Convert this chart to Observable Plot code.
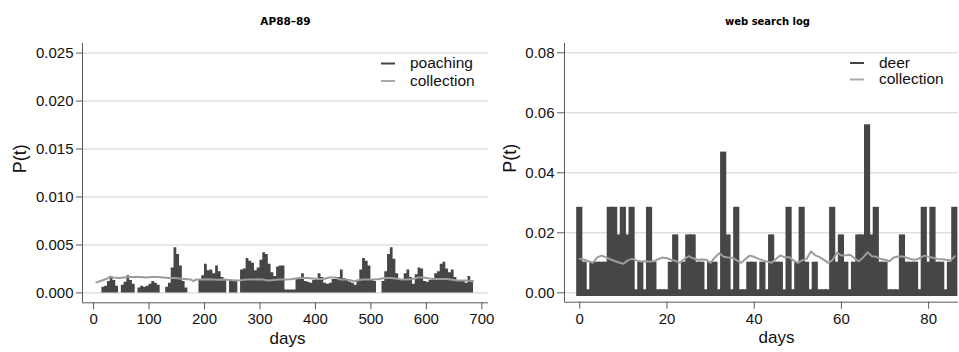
<!DOCTYPE html>
<html><head><meta charset="utf-8">
<script src="https://cdn.jsdelivr.net/npm/d3@7"></script>
<script src="https://cdn.jsdelivr.net/npm/@observablehq/plot@0.6"></script>
<style>
body{margin:0;background:#fff;}
#wrap{display:flex;width:959px;height:352px;overflow:hidden;background:#fff;}
#wrap svg{display:block;}
</style></head><body><div id="wrap"></div>
<script>
// ---------- LEFT PANEL: AP88–89 ----------
const leftTitle = "AP88–89";
const leftSeries = ["poaching", "collection"];
const leftXTicks = [0, 100, 200, 300, 400, 500, 600, 700];
const leftYTicks = [0, 0.005, 0.010, 0.015, 0.020, 0.025];
// 5-day bins: start day of each bin
const leftBinDays = [15,20,25,30,35,40,45,50,55,60,65,70,75,80,85,90,95,100,105,110,115,120,125,130,135,140,145,150,155,160,165,170,175,180,185,190,195,200,205,210,215,220,225,230,235,240,245,250,255,260,265,270,275,280,285,290,295,300,305,310,315,320,325,330,335,340,345,350,355,360,365,370,375,380,385,390,395,400,405,410,415,420,425,430,435,440,445,450,455,460,465,470,475,480,485,490,495,500,505,510,515,520,525,530,535,540,545,550,555,560,565,570,575,580,585,590,595,600,605,610,615,620,625,630,635,640,645,650,655,660,665,670,675,680,685];
const leftPoaching = [0.0006,0.0007,0.0012,0.0017,0.0013,0.0007,0,0.0008,0.0011,0.0018,0.0013,0.0009,0,0.0005,0.0007,0.0006,0.0007,0.0009,0.0012,0.0010,0.0008,0,0,0.0006,0.0010,0.0026,0.0047,0.0040,0.0028,0.0012,0.0005,0,0,0,0,0.0014,0.0018,0.0030,0.0023,0.0024,0.0020,0.0028,0.0022,0.0016,0.0013,0,0.0012,0.0012,0.0012,0,0.0024,0.0025,0.0036,0.0033,0.0031,0.0023,0.0026,0.0034,0.0042,0.0040,0.0030,0.0021,0.0017,0.0027,0.0028,0.0028,0.0003,0.0003,0.0003,0.0003,0.0015,0.0016,0.0020,0.0012,0.0011,0.0010,0.0013,0.0015,0.0020,0.0016,0.0010,0.0009,0.0010,0.0014,0.0014,0.0016,0.0024,0.0015,0.0014,0.0011,0.0010,0.0008,0.0013,0.0024,0.0036,0.0033,0.0028,0.0014,0.0012,0,0,0.0012,0.0022,0.0040,0.0047,0.0035,0.0020,0.0014,0.0013,0.0020,0.0024,0.0016,0.0009,0.0019,0.0026,0.0025,0.0012,0.0011,0.0013,0.0014,0.0020,0.0022,0.0030,0.0032,0.0025,0.0021,0.0024,0.0016,0.0013,0.0013,0.0012,0.0010,0.0017,0.0013,0];
const leftCollDays = [5,15,25,30,35,45,55,65,75,85,95,105,115,125,135,145,155,165,175,180,185,195,205,215,225,235,245,255,265,275,285,295,305,315,325,335,345,355,365,375,385,395,405,415,425,435,445,455,465,470,475,485,495,505,515,525,535,545,555,565,575,585,595,605,615,625,635,645,655,665,675,684];
const leftCollection = [0.0011,0.0013,0.0015,0.0017,0.0016,0.00155,0.0016,0.00165,0.00165,0.00165,0.0016,0.00165,0.00165,0.0016,0.00155,0.00155,0.0015,0.00145,0.0014,0.00124,0.0014,0.0014,0.00142,0.0014,0.00138,0.0014,0.00135,0.0013,0.00132,0.0014,0.0014,0.00142,0.0014,0.0013,0.00135,0.0014,0.0014,0.00142,0.0015,0.00155,0.00155,0.0015,0.00145,0.00145,0.0016,0.0016,0.0014,0.0014,0.0013,0.0012,0.0013,0.0014,0.0014,0.0014,0.00145,0.00155,0.00155,0.0015,0.0014,0.0014,0.00145,0.0016,0.0016,0.0015,0.00145,0.00145,0.00145,0.0014,0.0013,0.0013,0.0013,0.0012];

// ---------- RIGHT PANEL: web search log ----------
const rightTitle = "web search log";
const rightSeries = ["deer", "collection"];
const rightXTicks = [0, 20, 40, 60, 80];
const rightYTicks = [0, 0.02, 0.04, 0.06, 0.08];
const rightDays = d3.range(0, 87);
const rightDeer = [
0.0275,0.0092,0,0.0092,0.0092,0.0092,0.0092,0.0275,0.0275,0.0183,
0.0275,0.0183,0.0275,0,0.0092,0,0.0275,0.0092,0,0,
0,0.0092,0.0183,0,0.0092,0.0183,0.0183,0.0092,0.0092,0,
0.0092,0.0092,0,0.0459,0.0183,0,0.0275,0,0,0.0092,
0.0092,0,0.0092,0,0.0183,0.0092,0.0092,0,0.0275,0,
0.0092,0.0275,0.0092,0,0.0092,0,0,0,0.0275,0.0092,
0.0183,0.0092,0,0.0092,0.0183,0.0183,0.0550,0.0183,0.0275,0.0092,
0.0092,0,0,0,0.0183,0.0092,0.0092,0.0092,0,0.0275,
0.0092,0.0275,0.0092,0.0092,0,0.0092,0.0275];
const rightCollection = [
0.0113,0.0110,0.0105,0.0100,0.0118,0.0124,0.0118,0.0112,0.0106,0.0101,
0.0097,0.0108,0.0113,0.0108,0.0104,0.0105,0.0104,0.0105,0.0112,0.0118,
0.0115,0.0110,0.0106,0.0100,0.0113,0.0122,0.0115,0.0110,0.0111,0.0110,
0.0100,0.0118,0.0132,0.0120,0.0118,0.0117,0.0108,0.0100,0.0113,0.0124,
0.0120,0.0113,0.0108,0.0104,0.0100,0.0113,0.0125,0.0118,0.0119,0.0108,
0.0100,0.0108,0.0113,0.0138,0.0125,0.0119,0.0110,0.0100,0.0110,0.0134,
0.0124,0.0125,0.0127,0.0115,0.0105,0.0118,0.0135,0.0122,0.0120,0.0113,
0.0110,0.0105,0.0118,0.0121,0.0121,0.0117,0.0112,0.0110,0.0116,0.0124,
0.0120,0.0117,0.0113,0.0112,0.0110,0.0108,0.0122];

// ---------- styling ----------
const FONT = '"Liberation Sans", Arial, Helvetica, sans-serif';
const DARK = "#464646";
const GRAY = "#9c9c9c";
const AX = "#5a5a5a";
const GRID = "#d0d0d0";

const leftBins = leftBinDays.map((d, i) => ({day: d, v: leftPoaching[i]}));
const leftColl = leftCollDays.map((d, i) => ({day: d, v: leftCollection[i]}));
const rightColl = rightDays.map((d, i) => ({day: d, v: rightCollection[i]}));

const LX = [-20, 712], LY = [-0.00103, 0.0260];
const RX = [-3.5, 86.85], RY = [-0.00313, 0.0831];

function common(xd, yd) {
  return [
    Plot.ruleX([xd[0]], {stroke: AX, strokeWidth: 1}),
    Plot.ruleY([yd[0]], {stroke: AX, strokeWidth: 1})
  ];
}

const left = Plot.plot({
  width: 490, height: 352,
  marginLeft: 82, marginRight: 2, marginTop: 43, marginBottom: 49.7,
  x: {domain: LX}, y: {domain: LY},
  style: {fontFamily: FONT, background: "white", overflow: "visible"},
  marks: [
    Plot.gridY({ticks: leftYTicks, stroke: GRID, strokeOpacity: 1}),
    Plot.areaY(leftBins, {x: "day", y: "v", curve: "step-after", fill: DARK}),
    Plot.line(leftColl, {x: "day", y: "v", stroke: GRAY, strokeWidth: 2}),
    ...common(LX, LY),
    Plot.axisY({ticks: leftYTicks, tickSize: 6, tickPadding: 3, fontSize: 15, tickFormat: d3.format(".3f"), stroke: AX, fill: "#111", label: null}),
    Plot.axisX({ticks: leftXTicks, tickSize: 7, tickPadding: 4, fontSize: 15, stroke: AX, fill: "#111", label: null}),
    Plot.text([leftTitle], {frameAnchor: "top", dy: -26, fontSize: 10.5, fontWeight: "bold", fontFamily: "DejaVu Sans", fill: "#000"}),
    Plot.text(["days"], {frameAnchor: "bottom", dy: 41, dx: 2, fontSize: 17, fill: "#111"}),
    Plot.text(["P(t)"], {frameAnchor: "left", dx: -62, rotate: -90, fontSize: 18, fill: "#111"})
  ]
});

const right = Plot.plot({
  width: 469, height: 352,
  marginLeft: 74, marginRight: 1, marginTop: 43, marginBottom: 50.3,
  x: {domain: RX}, y: {domain: RY},
  style: {fontFamily: FONT, background: "transparent", overflow: "visible"},
  marks: [
    Plot.gridY({ticks: rightYTicks, stroke: GRID, strokeOpacity: 1}),
    Plot.rect(rightDays, {x1: d => d - 0.5, x2: d => d + 0.5, y1: () => 0, y2: (d, i) => rightDeer[i],
      fill: DARK, insetLeft: -0.9, insetRight: -0.9, insetTop: -3, insetBottom: -3.7}),
    Plot.line(rightColl, {x: "day", y: "v", stroke: GRAY, strokeWidth: 2}),
    ...common(RX, RY),
    Plot.axisY({ticks: rightYTicks, tickSize: 7, tickPadding: 3, fontSize: 15, tickFormat: d3.format(".2f"), stroke: AX, fill: "#111", label: null}),
    Plot.axisX({ticks: rightXTicks, tickSize: 7, tickPadding: 4, fontSize: 15, stroke: AX, fill: "#111", label: null}),
    Plot.text([rightTitle], {frameAnchor: "top", dy: -26, dx: 6, fontSize: 10, fontWeight: "bold", fontFamily: "DejaVu Sans", fill: "#000"}),
    Plot.text(["days"], {frameAnchor: "bottom", dy: 41, dx: 15, fontSize: 17, fill: "#111"}),
    Plot.text(["P(t)"], {frameAnchor: "left", dx: -54, rotate: -90, fontSize: 18, fill: "#111"})
  ]
});

function addLegend(svg, x0, textX, y0, step, labels) {
  const g = d3.select(svg).append("g").attr("font-family", FONT).attr("font-size", 15.5).attr("text-anchor", "start");
  labels.forEach((lab, i) => {
    const y = y0 + i * step;
    g.append("line").attr("x1", x0).attr("x2", x0 + 14).attr("y1", y).attr("y2", y)
      .attr("stroke", i === 0 ? "#444" : "#aaa").attr("stroke-width", 2);
    g.append("text").attr("x", textX).attr("y", y).attr("dy", "0.3em").attr("text-anchor", "start").attr("fill", "#111").text(lab);
  });
}
addLegend(left, 381, 410, 63.5, 17.5, leftSeries);
addLegend(right, 360, 389, 63, 16.5, rightSeries);

const wrap = document.getElementById("wrap");
wrap.appendChild(left);
wrap.appendChild(right);
</script></body></html>
